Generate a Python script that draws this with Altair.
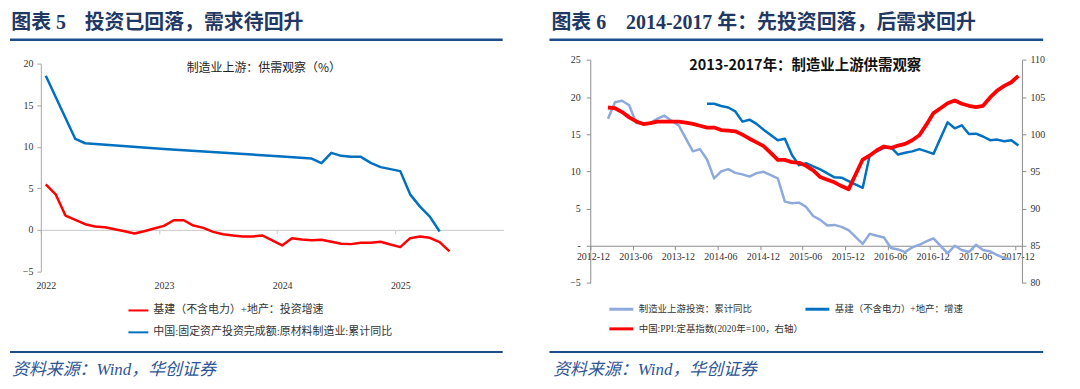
import json
import altair as alt
import pandas as pd

# ---------------- data: left panel (图表5) ----------------
L_TITLE_NO = "图表 5"
L_TITLE = "投资已回落，需求待回升"
L_INNER_TITLE = "制造业上游：供需观察（%）"
L_RED_NAME = "基建（不含电力）+地产：投资增速"
L_BLUE_NAME = "中国:固定资产投资完成额:原材料制造业:累计同比"
L_YEAR_LABELS = ["2022", "2023", "2024", "2025"]
L_RED_MONTHS = list(range(42))  # months since 2022-01
L_RED_VALUES = [5.48, 4.28, 1.72, 1.20, 0.68, 0.40, 0.32, 0.08, -0.16, -0.44,
                -0.16, 0.16, 0.48, 1.16, 1.16, 0.52, 0.24, -0.24, -0.52, -0.68,
                -0.80, -0.80, -0.68, -1.28, -1.88, -1.00, -1.16, -1.24, -1.20, -1.44,
                -1.68, -1.72, -1.56, -1.56, -1.44, -1.76, -2.08, -1.00, -0.80, -0.96,
                -1.48, -2.60]
L_BLUE_MONTHS = [0, 3, 4, 12, 24, 27, 28, 29, 30, 31, 32, 33, 34, 35, 36, 37, 38, 39, 40]
L_BLUE_VALUES = [18.57, 10.96, 10.44, 9.75, 8.84, 8.60, 8.04, 9.28, 8.92, 8.80,
                 8.80, 8.08, 7.56, 7.32, 7.08, 4.28, 2.80, 1.60, -0.20]

# ---------------- data: right panel (图表6) ----------------
R_TITLE_NO = "图表 6"
R_TITLE = "2014-2017 年：先投资回落，后需求回升"
R_INNER_TITLE = "2013-2017年：制造业上游供需观察"
R_LB_NAME = "制造业上游投资：累计同比"
R_DB_NAME = "基建（不含电力）+地产：增速"
R_PPI_NAME = "中国:PPI:定基指数(2020年=100，右轴）"
R_TICK_LABELS = ["2012-12", "2013-06", "2013-12", "2014-06", "2014-12", "2015-06",
                 "2015-12", "2016-06", "2016-12", "2017-06", "2017-12"]
# months since 2012-12
R_LB_MONTHS = [2, 3, 4, 5, 6, 7, 8, 9, 10, 11, 12,
               14, 15, 16, 17, 18, 19, 20, 21, 22, 23, 24,
               26, 27, 28, 29, 30, 31, 32, 33, 34, 35, 36,
               38, 39, 40, 41, 42, 43, 44, 45, 46, 47, 48,
               50, 51, 52, 53, 54, 55, 56, 57, 58, 59]
R_LB_VALUES = [17.1, 19.3, 19.5, 18.9, 16.5, 16.4, 16.5, 17.1, 17.5, 16.8, 16.2,
               12.7, 13.0, 11.6, 9.06, 10.0, 10.3, 9.8, 9.6, 9.3, 9.77, 9.95,
               9.06, 5.93, 5.71, 5.8, 5.22, 4.0, 3.48, 2.72, 2.8, 2.54, 2.1,
               0.25, 1.6, 1.34, 1.11, -0.3, -0.5, -0.85, -0.22, 0.13, 0.58, 0.98,
               -1.03, 0.0, -0.58, -0.85, 0.13, -0.58, -0.76, -1.25, -1.65, -1.83]
R_DB_MONTHS = [16, 17, 18, 19, 20, 21, 22, 23, 24,
               26, 27, 28, 29, 30, 31, 32, 33, 34, 35, 36,
               38, 39, 40, 41, 42, 43, 44, 45, 46, 47, 48,
               50, 51, 52, 53, 54, 55, 56, 57, 58, 59, 60]
R_DB_VALUES = [19.1, 19.1, 18.8, 18.6, 18.07, 16.7, 16.96, 16.4, 15.6,
               14.2, 14.4, 12.2, 10.84, 11.1, 10.67, 10.27, 9.73, 9.2, 9.15, 8.7,
               7.8, 12.2, 12.7, 13.16, 13.25, 12.27, 12.5, 12.7, 13.0, 12.7, 12.36,
               16.6, 15.8, 16.2, 15.03, 15.08, 14.7, 14.2, 14.28, 14.06, 14.2, 13.5]
R_PPI_MONTHS = list(range(2, 37)) + list(range(38, 61))
R_PPI_VALUES = [103.6, 103.5, 102.98, 102.27, 101.73, 101.37, 101.5, 101.7, 101.7, 101.7,
                101.7, 101.56, 101.4, 101.15, 100.9, 100.9, 100.57, 100.5, 100.4, 99.95,
                99.4, 98.9, 98.4, 97.5, 96.55, 96.55, 96.24, 96.15, 95.75, 95.13,
                94.24, 93.88, 93.53, 93.03, 92.59,
                96.6, 97.14, 97.85, 98.35, 98.16, 98.48, 98.7, 99.19, 99.86, 101.29,
                102.85, 103.5, 104.18, 104.54, 104.1, 103.83, 103.65, 103.83, 104.95, 105.88,
                106.5, 107.0, 107.85]

SOURCE = "资料来源：Wind，华创证券"

# ---------------- styling ----------------
PW, PH = 532, 373
MIX_FONT = "Liberation Serif, Noto Sans CJK SC"
CJK_FONT = "Noto Sans CJK SC"
HEAD_COLOR = "#1F3864"
RULE_COLOR = "#1F4E8C"
SRC_COLOR = "#2E5597"
LABEL_COLOR = "#333333"


def one_row():
    return pd.DataFrame({"k": [0]})


def text_layer(txt, x, y, size, color, weight="normal", style="normal",
               align="left", font=MIX_FONT):
    return alt.Chart(one_row()).mark_text(
        text=txt, align=align, baseline="middle", font=font, fontSize=size,
        fontWeight=weight, fontStyle=style, color=color
    ).encode(x=alt.value(x), y=alt.value(y))


def hrule(x1, x2, y, color, w):
    return alt.Chart(one_row()).mark_rule(color=color, strokeWidth=w).encode(
        x=alt.value(x1), x2=alt.value(x2), y=alt.value(y))


def series_df(months, values, name):
    return pd.DataFrame({"t": [m + 0.5 for m in months], "v": values, "s": name})


# ---------------- left panel ----------------
left_df = pd.concat([series_df(L_RED_MONTHS, L_RED_VALUES, L_RED_NAME),
                     series_df(L_BLUE_MONTHS, L_BLUE_VALUES, L_BLUE_NAME)])

lx = alt.X("t:Q",
           scale=alt.Scale(domain=[0, 47], range=[31, 496], nice=False, zero=False),
           axis=alt.Axis(values=[0, 12, 24, 36],
                         labelExpr=json.dumps(L_YEAR_LABELS) + "[round(datum.value/12)]",
                         orient="bottom", offset=-152, grid=False, title=None,
                         domainColor="#C8C8C8", tickColor="#C8C8C8", tickSize=4,
                         labelPadding=46.5, labelOffset=5, labelFlush=False,
                         labelFont="Liberation Serif", labelFontSize=10,
                         labelColor=LABEL_COLOR, labelAngle=0))
ly = alt.Y("v:Q",
           scale=alt.Scale(domain=[-5, 20], range=[262.7, 54.3], nice=False, zero=False),
           axis=alt.Axis(values=[-5, 0, 5, 10, 15, 20], orient="left", offset=-31,
                         grid=False, title=None, domainColor="#A6A6A6",
                         tickColor="#A6A6A6", tickSize=4, labelPadding=4,
                         labelFont="Liberation Serif", labelFontSize=10,
                         labelColor=LABEL_COLOR))
lcolor = alt.Color("s:N",
                   scale=alt.Scale(domain=[L_RED_NAME, L_BLUE_NAME],
                                   range=["#FF0000", "#0070C0"]),
                   legend=alt.Legend(orient="none", legendX=118, legendY=291,
                                     title=None, symbolType="stroke", symbolSize=400,
                                     symbolStrokeWidth=2, labelOffset=4, rowPadding=6,
                                     padding=0, labelFont=MIX_FONT, labelFontSize=11,
                                     labelColor=LABEL_COLOR, labelLimit=400))

left_lines = alt.Chart(left_df).mark_line(strokeWidth=2.5, strokeJoin="round").encode(
    x=lx, y=ly, color=lcolor)

left = alt.layer(
    left_lines,
    text_layer(L_TITLE_NO, 1.3, 13, 20, HEAD_COLOR, weight="bold"),
    text_layer(L_TITLE, 75, 13, 20, HEAD_COLOR, weight="bold"),
    hrule(0, 495, 30, RULE_COLOR, 2.5),
    text_layer(L_INNER_TITLE, 255, 58.7, 12, "#222222", align="center", font=CJK_FONT),
    hrule(0, 495, 343.7, RULE_COLOR, 2),
    text_layer(SOURCE, 2, 361.5, 17, SRC_COLOR, style="italic"),
).properties(width=PW, height=PH)

# ---------------- right panel ----------------
rx = alt.X("t:Q",
           scale=alt.Scale(domain=[0, 61], range=[49, 482.7], nice=False, zero=False),
           axis=alt.Axis(values=list(range(0, 61, 6)),
                         labelExpr=json.dumps(R_TICK_LABELS) + "[round(datum.value/6)]",
                         orient="bottom", offset=-136, grid=False, title=None,
                         domainColor="#8C8C8C", tickColor="#8C8C8C", tickSize=4,
                         labelPadding=2.2, labelOffset=2.7, labelFlush=False,
                         labelOverlap=False,
                         labelFont="Liberation Serif", labelFontSize=10,
                         labelColor=LABEL_COLOR, labelAngle=0))
ry_left = alt.Y("v:Q",
                scale=alt.Scale(domain=[-5, 25], range=[274.3, 50.3], nice=False, zero=False),
                axis=alt.Axis(values=[-5, 0, 5, 10, 15, 20, 25], orient="left", offset=-49,
                              labelExpr="datum.value == 0 ? '-' : datum.label",
                              grid=False, title=None, domainColor="#8C8C8C",
                              tickColor="#8C8C8C", tickSize=4, labelPadding=6,
                              labelFont="Liberation Serif", labelFontSize=10,
                              labelColor=LABEL_COLOR))
ry_right = alt.Y("v:Q",
                 scale=alt.Scale(domain=[80, 110], range=[274.3, 50.3], nice=False, zero=False),
                 axis=alt.Axis(values=[80, 85, 90, 95, 100, 105, 110], orient="right",
                               offset=-49.3, grid=False, title=None,
                               domainColor="#8C8C8C", tickColor="#8C8C8C", tickSize=4,
                               labelPadding=4, labelFont="Liberation Serif",
                               labelFontSize=10, labelColor=LABEL_COLOR))
r_legend = alt.Legend(orient="none", legendX=66.7, legendY=287, title=None,
                      direction="horizontal",
                      symbolType="stroke", symbolSize=576, symbolStrokeWidth=3,
                      labelOffset=4, rowPadding=-5, columnPadding=-16, columns=2,
                      padding=0, labelFont=MIX_FONT, labelFontSize=9.5,
                      labelColor=LABEL_COLOR, labelLimit=400)
rcolor = alt.Color("s:N",
                   scale=alt.Scale(domain=[R_LB_NAME, R_DB_NAME, R_PPI_NAME],
                                   range=["#8EA9DB", "#0070C0", "#FF0000"]),
                   legend=r_legend)

right_df = pd.concat([series_df(R_LB_MONTHS, R_LB_VALUES, R_LB_NAME),
                      series_df(R_DB_MONTHS, R_DB_VALUES, R_DB_NAME)])
ppi_df = series_df(R_PPI_MONTHS, R_PPI_VALUES, R_PPI_NAME)

right_lines = alt.Chart(right_df).mark_line(strokeWidth=2.5, strokeJoin="round").encode(
    x=rx, y=ry_left, color=rcolor)
ppi_line = alt.Chart(ppi_df).mark_line(strokeWidth=3.8, strokeJoin="round").encode(
    x=rx, y=ry_right, color=rcolor)

right = alt.layer(
    right_lines,
    ppi_line,
    text_layer(R_TITLE_NO, 10, 13, 20, HEAD_COLOR, weight="bold"),
    text_layer(R_TITLE, 85, 13, 20, HEAD_COLOR, weight="bold"),
    hrule(8, 504, 30, RULE_COLOR, 2.5),
    text_layer(R_INNER_TITLE, 265, 56, 14.5, "#111111", weight="bold",
               align="center", font=CJK_FONT),
    hrule(8, 504, 343.7, RULE_COLOR, 2),
    text_layer(SOURCE, 11.7, 361.5, 17, SRC_COLOR, style="italic"),
).resolve_scale(y="independent").properties(width=PW, height=PH)

chart = alt.hconcat(left, right, spacing=0, padding=0).resolve_scale(
    color="independent"
).configure_view(stroke="transparent").properties(background="white")

chart.save("out.html", embed_options={"renderer": "svg", "actions": False})
